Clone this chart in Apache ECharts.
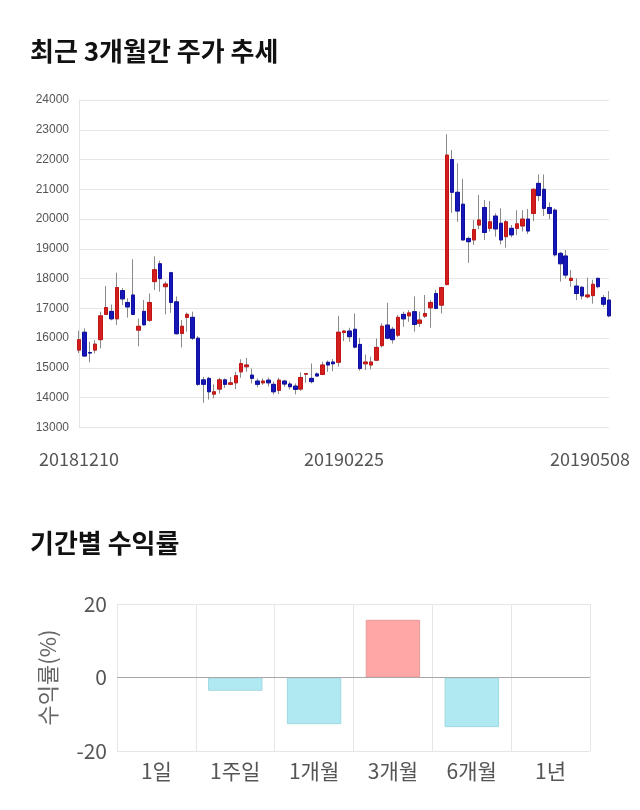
<!DOCTYPE html>
<html><head><meta charset="utf-8">
<script src="https://cdn.jsdelivr.net/npm/echarts@6/dist/echarts.min.js"></script>
<style>html,body{margin:0;padding:0;background:#fff}#c{width:640px;height:810px}</style>
</head><body><div id="c"></div>
<script>
var dates = ["20181210","20181211","20181212","20181213","20181214","20181217","20181218","20181219","20181220","20181221","20181224","20181226","20181227","20181228",
"20190102","20190103","20190104","20190107","20190108","20190109","20190110","20190111","20190114","20190115","20190116","20190117","20190118","20190121","20190122","20190123","20190124","20190125","20190128","20190129","20190130","20190131",
"20190201","20190207","20190208","20190211","20190212","20190213","20190214","20190215","20190218","20190219","20190220","20190221","20190222","20190225","20190226","20190227","20190228",
"20190304","20190305","20190306","20190307","20190308","20190311","20190312","20190313","20190314","20190315","20190318","20190319","20190320","20190321","20190322","20190325","20190326","20190327","20190328","20190329",
"20190401","20190402","20190403","20190404","20190405","20190408","20190409","20190410","20190411","20190412","20190415","20190416","20190417","20190418","20190419","20190422","20190423","20190424","20190425","20190426","20190429","20190430",
"20190502","20190503","20190507","20190508"];
var opens = [15600,16200,15520,15600,15950,16800,16900,16650,17600,17200,17450,16270,16900,16600,17900,18500,17730,18200,17220,16160,16700,16700,16000,14600,14650,14120,14290,14600,14450,14500,14870,15040,14760,14560,14500,14590,14450,14250,14560,14460,14390,14290,14790,14650,14800,14780,15190,15200,15190,16190,16240,16300,15790,15140,15100,15260,15750,16440,16300,16100,16800,16750,16890,16500,16740,17020,17500,17110,17800,22000,20900,20500,19350,19300,19800,20390,19690,20100,19860,19410,19690,19690,19770,20000,20190,21200,21000,20390,20300,18850,18760,17940,17750,17710,17390,17430,18010,17360,17280];
var closes = [15950,15400,15500,15800,16750,17030,16650,17700,17320,17050,16800,16400,16450,17200,18300,18000,17820,17200,16150,16400,16800,16000,14450,14450,14200,14200,14600,14450,14500,14740,15150,15100,14650,14450,14560,14500,14200,14590,14460,14370,14280,14680,14810,14540,14730,15100,15100,15140,16200,16240,16050,15700,14980,15200,15200,15690,16400,16000,15950,16700,16650,16850,16460,16610,16830,17200,17000,17700,22150,20900,20270,19300,19240,19650,19970,19550,19910,19670,19300,19910,19470,19840,20000,19600,21000,20790,20360,20190,18800,18500,18120,18010,17500,17420,17450,17810,17730,17140,16750];
var lows = [15500,15400,15190,15490,15660,16780,16600,16440,17110,16690,16780,15730,16420,16550,17620,17560,16800,16850,16120,15690,16220,15940,14400,13830,13940,13980,14140,14330,14420,14290,14670,14870,14480,14350,14430,14380,14110,14120,14370,14280,14110,14230,14500,14480,14700,14760,14870,14890,15040,15900,15880,15660,14910,14930,14950,15230,15690,15960,15820,16040,16380,16550,16220,16380,16680,16350,16970,16830,17780,20210,19910,19280,18530,19130,19660,19300,19580,19410,19150,19040,19390,19460,19580,19500,19930,20610,20100,19990,18740,17900,18010,17730,17280,17300,17340,17160,17670,17060,16700];
var highs = [16250,16330,15880,15940,16890,17750,17130,18200,17680,17340,18650,16660,17280,17500,18750,18600,17900,18230,17400,16610,16860,16890,16070,14700,14700,14450,14670,14650,14700,14870,15290,15340,14980,14650,14650,14680,14540,14670,14600,14540,14480,14850,14810,15150,14850,15210,15250,15300,16750,16270,16350,16830,16010,15450,15380,15990,16500,17190,16380,16780,16890,16940,17400,16890,17450,17280,17620,17730,22850,22320,21870,21350,19410,19970,20810,20640,20610,20190,20360,19970,19800,20300,20300,20340,21030,21500,21500,20560,20360,18900,18960,18290,18010,17750,18030,17960,18030,17450,17580];
var priceTicks = [13000, 24000, 1000];
var dateLabelIdx = [0, 49, 98];

var periods = ["1일","1주일","1개월","3개월","6개월","1년"];
var returns = [0, -3.6, -12.7, 15.7, -13.5, 0];

var wickData = dates.map(function(d,i){ return [opens[i], closes[i], lows[i], highs[i]]; });
var bodyData = dates.map(function(d,i){
  return [opens[i], closes[i], Math.min(opens[i],closes[i]), Math.max(opens[i],closes[i])];
});
var retData = returns.map(function(v){
  var pos = v > 0;
  return {value: v, itemStyle: {
    color: pos ? '#ffa6a6' : '#b0e9f2',
    borderColor: pos ? '#e89a9a' : '#9fd9e3',
    borderWidth: v === 0 ? 0 : 1
  }};
});

var chart = echarts.init(document.getElementById('c'), null, {renderer:'canvas'});
var CJK = "'Noto Sans CJK KR', 'Noto Sans', sans-serif";
chart.setOption({
  animation: false,
  title: [
    {text: '최근 3개월간 주가 추세', left: 25, top: 33, textStyle: {fontFamily: CJK, fontSize: 26, fontWeight: 'bold', color: '#111'}},
    {text: '기간별 수익률', left: 25, top: 525, textStyle: {fontFamily: CJK, fontSize: 26, fontWeight: 'bold', color: '#111'}}
  ],
  grid: [
    {left: 79, right: 31, top: 100, height: 327.5},
    {left: 117, right: 50, top: 604, height: 147}
  ],
  xAxis: [
    {type: 'category', gridIndex: 0, data: dates, boundaryGap: false,
     axisLine: {show: false}, axisTick: {show: false}, splitLine: {show: false},
     axisLabel: {
       interval: function(i){ return dateLabelIdx.indexOf(i) >= 0; },
       color: '#555', fontSize: 18, fontFamily: CJK, margin: 23,
       formatter: function(v, i){ return i === dateLabelIdx[2] ? '{last|' + v + '}' : v; },
       rich: {last: {fontSize: 18, fontFamily: CJK, color: '#555', padding: [0, 38, 0, 0]}}
     }},
    {type: 'category', gridIndex: 1, data: periods, boundaryGap: true,
     axisLine: {show: false}, axisTick: {show: false},
     splitLine: {show: true, lineStyle: {color: '#e6e6e6'}},
     axisLabel: {color: '#555', fontSize: 21, fontFamily: CJK, margin: 10}}
  ],
  yAxis: [
    {type: 'value', gridIndex: 0, min: priceTicks[0], max: priceTicks[1], interval: priceTicks[2],
     axisLine: {show: true, lineStyle: {color: '#e3e3e3'}}, axisTick: {show: false},
     splitLine: {lineStyle: {color: '#e6e6e6'}},
     axisLabel: {color: '#555', fontSize: 12, fontFamily: "'Liberation Sans', Arial, sans-serif", margin: 10,
       formatter: function(v){ return String(v); }}},
    {type: 'value', gridIndex: 1, min: -20, max: 20, interval: 20,
     axisLine: {show: false}, axisTick: {show: false},
     splitLine: {lineStyle: {color: '#e6e6e6'}},
     name: '수익률(%)', nameLocation: 'middle', nameRotate: 90, nameGap: 58,
     nameTextStyle: {color: '#666', fontSize: 22, fontFamily: CJK},
     axisLabel: {color: '#555', fontSize: 21, fontFamily: CJK, margin: 10}}
  ],
  series: [
    {type: 'candlestick', xAxisIndex: 0, yAxisIndex: 0, data: wickData, barWidth: 4,
     itemStyle: {color: 'transparent', color0: 'transparent', borderColor: '#8a8a8a', borderColor0: '#8a8a8a', borderWidth: 1}},
    {type: 'candlestick', xAxisIndex: 0, yAxisIndex: 0, data: bodyData, barWidth: 4,
     itemStyle: {color: '#d41e1e', color0: '#1515b8', borderColor: '#c01515', borderColor0: '#10109e', borderWidth: 1}},
    {type: 'bar', xAxisIndex: 1, yAxisIndex: 1, data: retData, barWidth: '69%',
     markLine: {silent: true, symbol: 'none', label: {show: false},
       lineStyle: {color: '#a8a8a8', type: 'solid', width: 1}, data: [{yAxis: 0}]}}
  ]
});
</script></body></html>
